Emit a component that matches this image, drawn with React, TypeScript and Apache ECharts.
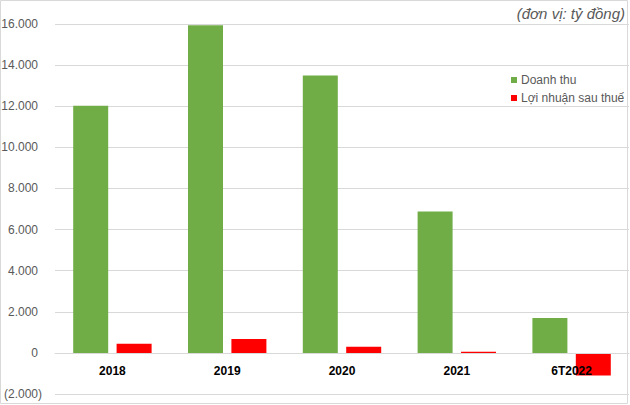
import React, { useEffect, useRef } from "react";
import * as echarts from "echarts";

const categories = ["2018", "2019", "2020", "2021", "6T2022"];
const revenue = [12020, 15940, 13500, 6880, 1700];
const profit = [450, 670, 300, 60, -1100];
const seriesNames = ["Doanh thu", "Lợi nhuận sau thuế"];
const unitLabel = "(đơn vị: tỷ đồng)";

const fmt = (v: number) => {
  const s = Math.abs(v).toString().replace(/\B(?=(\d{3})+(?!\d))/g, ".");
  return v < 0 ? "(" + s + ")" : "{p|" + s + "}";
};

export default function App() {
  const ref = useRef<HTMLDivElement>(null);
  useEffect(() => {
    if (!ref.current) return;
    const chart = echarts.init(ref.current, null, { renderer: "svg" });
    const font = "Liberation Sans, Arial, sans-serif";
    chart.setOption({
      animation: false,
      backgroundColor: "#ffffff",
      textStyle: { fontFamily: font },
      graphic: [
        {
          type: "rect",
          shape: { x: 0.5, y: 0.5, width: 627, height: 403 },
          style: { fill: "none", stroke: "#d9d9d9", lineWidth: 1 },
          silent: true,
        },
        {
          type: "text",
          right: 5,
          top: 6,
          style: {
            text: unitLabel,
            fontSize: 15,
            fontStyle: "italic",
            fontFamily: font,
            fill: "#595959",
          },
        },
      ],
      legend: {
        orient: "vertical",
        left: 506,
        top: 69,
        itemWidth: 6,
        itemHeight: 6,
        itemGap: 6,
        icon: "rect",
        textStyle: { fontSize: 12, color: "#595959", fontFamily: font, padding: [0, 0, 0, -1] },
        data: seriesNames,
      },
      grid: { left: 55, right: 1, top: 24, bottom: 11, containLabel: false, outerBoundsMode: "none" },
      xAxis: {
        type: "category",
        data: categories,
        z: 10,
        axisLine: { onZero: false, lineStyle: { color: "#d9d9d9" } },
        offset: -41,
        axisTick: { show: false },
        axisLabel: { fontSize: 12, fontWeight: "bold", color: "#000000", margin: 12, fontFamily: font },
      },
      yAxis: {
        type: "value",
        min: -2000,
        max: 16000,
        interval: 2000,
        axisLine: { show: false },
        axisTick: { show: false },
        splitLine: { lineStyle: { color: "#d9d9d9" } },
        axisLabel: {
          fontSize: 12,
          color: "#595959",
          margin: 13,
          fontFamily: font,
          formatter: (v: number) => fmt(v),
          rich: { p: { fontSize: 12, color: "#595959", fontFamily: font, padding: [0, 4, 0, 0] } },
        },
      },
      series: [
        {
          name: seriesNames[0],
          type: "bar",
          data: revenue,
          barWidth: 35,
          barGap: "24%",
          z: 2,
          itemStyle: { color: "#70AD47" },
        },
        {
          name: seriesNames[1],
          type: "bar",
          data: profit,
          barWidth: 35,
          barGap: "24%",
          z: 2,
          itemStyle: { color: "#FF0000" },
        },
      ],
    });
    return () => chart.dispose();
  }, []);
  return (
    <div
      ref={ref}
      style={{ position: "absolute", left: 0, top: 0, width: 630, height: 405 }}
    />
  );
}
